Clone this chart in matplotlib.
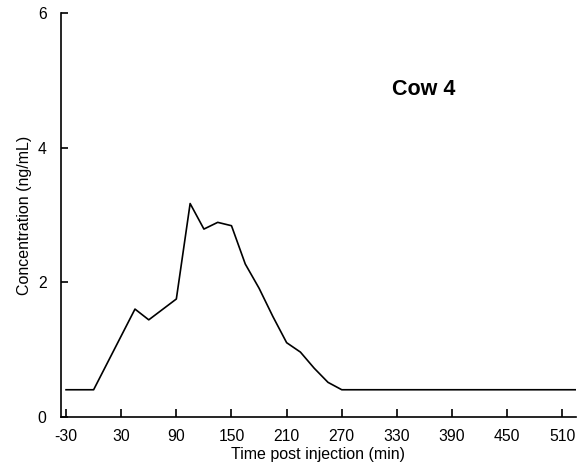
import matplotlib
matplotlib.use("Agg")
import matplotlib.pyplot as plt

time_min = [-30, -15, 0, 45, 60, 90, 105, 120, 135, 150, 165, 180, 195, 210, 225, 240, 255, 270, 525]
conc = [0.4, 0.4, 0.4, 1.60, 1.44, 1.75, 3.17, 2.79, 2.89, 2.84, 2.27, 1.91, 1.49, 1.10, 0.96, 0.72, 0.51, 0.40, 0.40]
x_ticks = [-30, 30, 90, 150, 210, 270, 330, 390, 450, 510]
y_ticks = [0, 2, 4, 6]

plt.rcParams['font.family'] = ['Liberation Sans', 'DejaVu Sans']
plt.rcParams['axes.unicode_minus'] = False

fig = plt.figure(figsize=(5.82, 4.74), dpi=100)
ax = fig.add_axes([0.104, 0.121, 0.886, 0.851])
ax.plot(time_min, conc, color='black', linewidth=1.2)
ax.set_xlim(-36, 525)
ax.set_ylim(0, 6)
ax.set_xticks(x_ticks)
ax.set_yticks(y_ticks)
ax.spines['top'].set_visible(False)
ax.spines['right'].set_visible(False)
for s in ['left', 'bottom']:
    ax.spines[s].set_linewidth(1.2)
ax.tick_params(axis='x', direction='in', length=6, width=1.2, pad=9, labelsize=11.3)
ax.tick_params(axis='y', direction='in', length=5, width=1.2, pad=10, labelsize=11.3)
ax.set_xlabel('Time post injection (min)', fontsize=11.5, labelpad=2)
ax.set_ylabel('Concentration (ng/mL)', fontsize=11.5, labelpad=4)
ax.text(359, 4.86, 'Cow 4', fontsize=15.5, fontweight='bold', ha='center', va='center')
fig.savefig('out.png', dpi=100)
